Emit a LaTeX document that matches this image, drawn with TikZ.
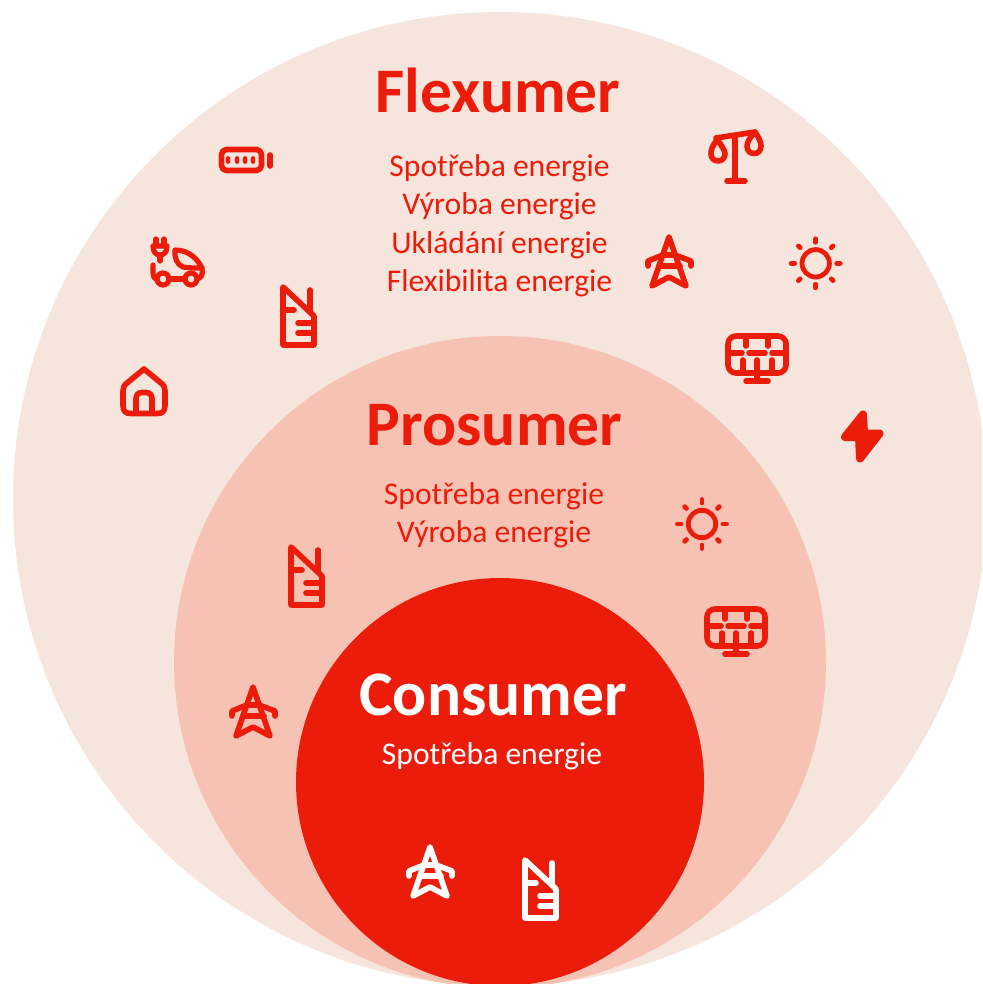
\documentclass[tikz,border=0pt]{standalone}
\usepackage{fontspec}
\setmainfont{Carlito}
\definecolor{palec}{HTML}{F6E5DD}
\definecolor{midc}{HTML}{F6C2B3}
\definecolor{redc}{HTML}{EC1C0B}
\newcommand{\headfont}{\fontsize{63.5}{64}\selectfont\bfseries}
\newcommand{\bodyfont}{\fontsize{31.6}{32}\selectfont}
\tikzset{
  icon/.style={line width=5.6pt,line cap=round,line join=round,fill=none},
  headtext/.style={anchor=base,inner sep=0pt,font=\headfont},
  bodytext/.style={anchor=base,inner sep=0pt,font=\bodyfont},
}
\newcommand{\nicon}[3]{\begin{scope}[shift={(#1,#2)},icon,draw=#3]
  \draw (283,287) -- (283,345) -- (314,345) -- (314,316) -- cycle;
  \draw (310,290) -- (310,312);
  \draw (283,310) -- (294,310);
  \draw (298,323) -- (314,323);
  \draw (298,333) -- (314,333);
\end{scope}}
\newcommand{\towericon}[3]{\begin{scope}[shift={(#1,#2)},icon,draw=#3]
  \draw (652,286) -- (669,237) -- (686,286) -- (669,277) -- cycle;
  \draw (648,266) -- (648,261) -- (663,255) -- (675,255) -- (691,261) -- (691,266);
  \draw (659,266) -- (680,266);
\end{scope}}
\newcommand{\sunicon}[2]{\begin{scope}[shift={(#1,#2)},icon,draw=redc,line width=4.8pt]
  \draw (0,0) circle (13.7);
  \foreach \a in {0,90,180,270} {\draw (\a:21) -- (\a:24.5);}
  \foreach \a in {45,135,225,315} {\draw (\a:22) -- (\a:24.5);}
\end{scope}}
\newcommand{\panelicon}[2]{\begin{scope}[shift={(#1,#2)},icon,draw=redc]
  \draw[rounded corners=8pt] (728,336) rectangle (786,373);
  \draw (757,360) -- (757,381);
  \draw (746,381) -- (768,381);
  \draw (730,353) -- (742,353);
  \draw (749,353) -- (765,353);
  \draw (772,353) -- (785,353);
  \draw (746,337) -- (746,346);
  \draw (768,337) -- (768,346);
  \draw (743,360) -- (743,372);
  \draw (772,360) -- (772,372);
\end{scope}}
\begin{document}
\begin{tikzpicture}[x=1pt,y=-1pt]
\useasboundingbox (0,0) rectangle (982,984);
\clip (0,0) rectangle (982,984);
\fill[palec] (500,499) circle (487);
\fill[midc] (500,662) circle (326);
\fill[redc] (500,782) circle (204);

\node[headtext,text=redc] (flextitle) at (498,112.5) {Flexumer};
\node[bodytext,text=redc] (flex1) at (499.5,176.5) {Spotřeba energie};
\node[bodytext,text=redc] (flex2) at (499.5,214.5) {Výroba energie};
\node[bodytext,text=redc] (flex3) at (499.5,253.5) {Ukládání energie};
\node[bodytext,text=redc] (flex4) at (499.5,291.5) {Flexibilita energie};
\node[headtext,text=redc] (prostitle) at (494.5,445) {Prosumer};
\node[bodytext,text=redc] (pros1) at (494,504.5) {Spotřeba energie};
\node[bodytext,text=redc] (pros2) at (494,542.5) {Výroba energie};
\node[headtext,text=white] (constitle) at (493,715.5) {Consumer};
\node[bodytext,text=white] (cons1) at (492,764.5) {Spotřeba energie};

% battery
\begin{scope}[icon,draw=redc]
  \draw[rounded corners=5pt] (221.5,149.5) rectangle (261.5,170.5);
  \draw (270,155) -- (270,166);
  \foreach \x in {228,237,245,253} {\fill[redc] (\x,160) ellipse (2.4 and 4.2);}
\end{scope}

% car
\begin{scope}[icon,draw=redc,line width=5.2pt]
  \draw (156,239) -- (156,245);
  \draw (164,239) -- (164,245);
  \draw (153,246) -- (167,246) .. controls (167,252) and (164,255) .. (160,255) .. controls (156,255) and (153,252) .. (153,246);
  \draw (160,255) -- (160,261);
  \draw (153,265) -- (153,272) .. controls (153,276) and (154,279) .. (157,279);
  \draw (163,279) circle (6);
  \draw (169,279) -- (185,279);
  \draw (191,279) circle (6);
  \draw (197,279) .. controls (202,278) and (203,274) .. (202,268);
  \draw (175,250) .. controls (188,250) and (197,258) .. (202,268) .. controls (195,268) and (188,268) .. (183,267) .. controls (177,265) and (174,257) .. (175,250) -- cycle;
\end{scope}

% house
\begin{scope}[icon,draw=redc]
  \draw (144,369) -- (161,383) .. controls (164,385) and (165,388) .. (165,391) -- (165,405) .. controls (165,411) and (163,413.5) .. (157,413.5) -- (131,413.5) .. controls (125,413.5) and (123,411) .. (123,405) -- (123,391) .. controls (123,388) and (124,385) .. (127,383) -- cycle;
  \draw (136,413) -- (136,399) .. controls (136,395) and (138,392.5) .. (142,392.5) -- (146,392.5) .. controls (150,392.5) and (152,395) .. (152,399) -- (152,413);
\end{scope}

% scale
\begin{scope}[icon,draw=redc]
  \draw (716,138) -- (755,132);
  \draw (735,136) -- (735,181);
  \draw (727,181) -- (745,181);
  \draw (717,140) .. controls (712,146) and (711,150) .. (711,154) .. controls (711,158) and (714,161) .. (718,161) .. controls (722,161) and (725,158) .. (725,154) .. controls (725,150) and (722,147) .. (719,142);
  \draw (755,132) .. controls (759,138) and (761,142) .. (761,146) .. controls (761,151) and (758,153.5) .. (754,153.5) .. controls (750,153.5) and (747,151) .. (747,146) .. controls (747,142) and (750,138) .. (753,134);
\end{scope}

% bolt
\fill[redc,draw=redc,line width=8pt,line join=round]
  (863,414.5) -- (845,437) -- (859,437) -- (860,458.5) -- (879.5,433.5) -- (864,433.5) -- cycle;

\nicon{0}{0}{redc}
\nicon{8}{260}{redc}
\nicon{242}{573}{white}
\towericon{0}{0}{redc}
\towericon{-416}{450}{redc}
\towericon{-239}{610}{white}
\sunicon{815.7}{263.3}
\sunicon{702}{524}
\panelicon{0}{0}
\panelicon{-21}{273}
\end{tikzpicture}
\end{document}
